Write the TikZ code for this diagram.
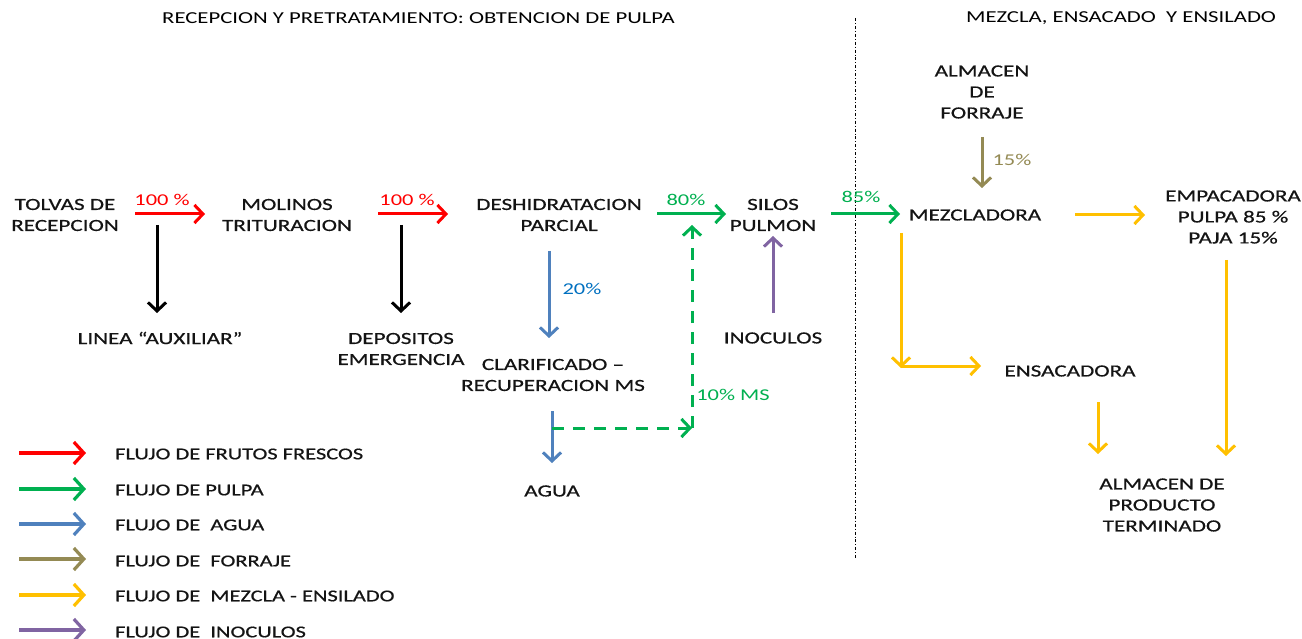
\documentclass[tikz,border=0pt]{standalone}
\usepackage{fontspec}
\setmainfont[FakeStretch=1.36]{Carlito}
\newfontfamily\bodyfont[FakeStretch=1.36,FakeBold=0.6,Ligatures=TeX]{Carlito}
\usetikzlibrary{arrows.meta}
\definecolor{cred}{RGB}{255,0,0}
\definecolor{cgreen}{RGB}{0,176,80}
\definecolor{cblue}{RGB}{79,129,189}
\definecolor{cbluet}{RGB}{0,112,192}
\definecolor{colive}{RGB}{148,138,84}
\definecolor{cyellow}{RGB}{255,192,0}
\definecolor{cpurple}{RGB}{128,100,162}
\definecolor{ctext}{RGB}{20,20,20}
\begin{document}
\begin{tikzpicture}[x=1pt,y=-1pt,
  lbl/.style={font=\bodyfont\fontsize{17}{21}\selectfont, align=center, inner sep=0pt, text=ctext},
  ttl/.style={font=\fontsize{16.7}{21}\selectfont, inner sep=0pt, anchor=west},
  pct/.style={font=\fontsize{16.5}{20}\selectfont, inner sep=0pt},
  leg/.style={font=\bodyfont\fontsize{16.5}{20}\selectfont, inner sep=0pt, anchor=west, text=ctext},
  flow/.style={line width=3pt, -{Straight Barb[length=8.5pt,width=18pt]}},
  bigflow/.style={line width=3.2pt, -{Straight Barb[length=10pt,width=22pt]}}]
\useasboundingbox (0,0) rectangle (1302,639);
\fill[white] (0,0) rectangle (1302,639);

% titles
\node[ttl] (t1) at (162,18) {RECEPCION Y PRETRATAMIENTO: OBTENCION DE PULPA};
\node[ttl] (t2) at (966,18) {MEZCLA, ENSACADO \ Y ENSILADO};
\coordinate (sepT) at (855,18);
\coordinate (sepB) at (855,560);
\draw[line width=0.9pt, dash dot, black] (sepT) -- (sepB);

% nodes
\node[lbl] (tolvas) at (65,215) {TOLVAS DE\\RECEPCION};
\node[lbl] (molinos) at (287,215) {MOLINOS\\TRITURACION};
\node[lbl] (linea) at (160,338) {LINEA “AUXILIAR”};
\node[lbl] (depositos) at (401,349) {DEPOSITOS\\EMERGENCIA};
\node[lbl] (deshi) at (559,215) {DESHIDRATACION\\PARCIAL};
\node[lbl] (silos) at (773,215) {SILOS\\PULMON};
\node[lbl] (clari) at (553,375) {CLARIFICADO –\\RECUPERACION MS};
\node[lbl] (agua) at (552,491) {AGUA};
\node[lbl] (inoc) at (773,338) {INOCULOS};
\node[lbl] (almf) at (982,92) {ALMACEN\\DE\\FORRAJE};
\node[lbl] (mezc) at (975,215) {MEZCLADORA};
\node[lbl] (empa) at (1233,217) {EMPACADORA\\PULPA 85 \%\\PAJA 15\%};
\node[lbl] (ensa) at (1070,371) {ENSACADORA};
\node[lbl] (almp) at (1162,505) {ALMACEN DE\\PRODUCTO\\TERMINADO};

% arrow endpoints
\coordinate (r1s) at (135,214); \coordinate (r1e) at (205,214);
\coordinate (r2s) at (378,214); \coordinate (r2e) at (448,214);
\coordinate (k1s) at (157,225); \coordinate (k1e) at (157,313);
\coordinate (k2s) at (401,225); \coordinate (k2e) at (401,313);
\coordinate (g1s) at (657,214); \coordinate (g1e) at (726,214);
\coordinate (g2s) at (831,214); \coordinate (g2e) at (900,214);
\coordinate (b1s) at (549,251); \coordinate (b1e) at (549,338);
\coordinate (b2s) at (552,411); \coordinate (b2e) at (552,463);
\coordinate (d1s) at (552,428); \coordinate (d1e) at (692,428);
\coordinate (d2e) at (692,225);
\coordinate (p1s) at (773,313); \coordinate (p1e) at (773,236);
\coordinate (o1s) at (982,137); \coordinate (o1e) at (982,188);
\coordinate (y1s) at (1075,215); \coordinate (y1e) at (1145,215);
\coordinate (y2s) at (901,233); \coordinate (y2e) at (901,368);
\coordinate (y3s) at (901,366); \coordinate (y3e) at (981,366);
\coordinate (y4s) at (1098,402); \coordinate (y4e) at (1098,454);
\coordinate (y5s) at (1226,260); \coordinate (y5e) at (1226,456);

\draw[flow, cred] (r1s) -- (r1e);
\draw[flow, cred] (r2s) -- (r2e);
\draw[flow, black] (k1s) -- (k1e);
\draw[flow, black] (k2s) -- (k2e);
\draw[flow, cgreen] (g1s) -- (g1e);
\draw[flow, cgreen] (g2s) -- (g2e);
\draw[flow, cblue] (b1s) -- (b1e);
\draw[flow, cblue] (b2s) -- (b2e);
\draw[flow, cgreen, dash pattern=on 12pt off 9pt] (d1s) -- (d1e);
\draw[flow, cgreen, dash pattern=on 12pt off 9pt] (d1e) -- (d2e);
\draw[flow, cpurple] (p1s) -- (p1e);
\draw[flow, colive] (o1s) -- (o1e);
\draw[flow, cyellow] (y1s) -- (y1e);
\draw[flow, cyellow] (y2s) -- (y2e);
\draw[flow, cyellow] (y3s) -- (y3e);
\draw[flow, cyellow] (y4s) -- (y4e);
\draw[flow, cyellow] (y5s) -- (y5e);

% percentage labels
\node[pct, text=cred] (pc1) at (162,200) {100 \%};
\node[pct, text=cred] (pc2) at (407,200) {100 \%};
\node[pct, text=cgreen] (pc3) at (686,200) {80\%};
\node[pct, text=cgreen] (pc4) at (861,197) {85\%};
\node[pct, text=cbluet] (pc5) at (582,289) {20\%};
\node[pct, text=cgreen] (pc6) at (733,395) {10\% MS};
\node[pct, text=colive] (pc7) at (1012,160) {15\%};

% legend
\foreach \yy/\cc/\nm in {453/cred/l1, 489/cgreen/l2, 524/cblue/l3, 559/colive/l4, 595/cyellow/l5, 630/cpurple/l6} {
  \coordinate (\nm s) at (19,\yy);
  \coordinate (\nm e) at (86,\yy);
  \draw[bigflow, \cc] (\nm s) -- (\nm e);
}
\node[leg] (lt1) at (115,454) {FLUJO DE FRUTOS FRESCOS};
\node[leg] (lt2) at (115,490) {FLUJO DE PULPA};
\node[leg] (lt3) at (115,525) {FLUJO DE \ AGUA};
\node[leg] (lt4) at (115,561) {FLUJO DE \ FORRAJE};
\node[leg] (lt5) at (115,596) {FLUJO DE \ MEZCLA - ENSILADO};
\node[leg] (lt6) at (115,632) {FLUJO DE \ INOCULOS};
\end{tikzpicture}
\end{document}
